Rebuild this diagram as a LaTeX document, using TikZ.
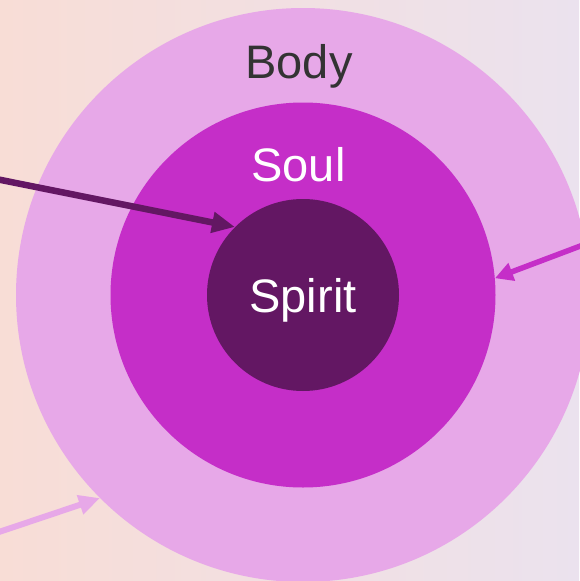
\documentclass[tikz,border=0pt]{standalone}
\usepackage{fontspec}
\setmainfont{Liberation Sans}
\usetikzlibrary{arrows.meta}
\definecolor{Peach}{HTML}{F8DDD6}
\definecolor{Haze}{HTML}{F4EAEF}
\definecolor{Lilac}{HTML}{EBE2EE}
\definecolor{Orchid}{HTML}{E7A8E8}
\definecolor{Magenta}{HTML}{C52EC8}
\definecolor{Plum}{HTML}{631763}
\definecolor{Ink}{HTML}{333333}

\begin{document}
\begin{tikzpicture}[x=1pt,y=-1pt,font=\fontsize{47}{56}\selectfont,
    ring/.style={circle,inner sep=0pt,draw=none},
    lbl/.style={anchor=base,inner sep=0pt}]
        \useasboundingbox (0,0) rectangle (579,581);
        \shade[left color=Peach,middle color=Haze,right color=Lilac] (0,0) rectangle (579,581);
        % the three rings
        \node[ring,fill=Orchid,minimum size=574pt] (body) at (303,295) {};
        \node[ring,fill=Magenta,minimum size=385pt] (soul) at (303,295) {};
        \node[ring,fill=Plum,minimum size=192pt] (spirit) at (303,295) {};
        \node[lbl,text=Ink] (bodytxt) at (299,78.5) {Body};
        \node[lbl,text=white] (soultxt) at (298.5,181.5) {Soul};
        \node[lbl,text=white] (spirittxt) at (303,312) {Spirit};
        % pointers from outside
        \coordinate (tailA) at (-4,179);
        \coordinate (tailB) at (583,245);
        \coordinate (tailC) at (-4,533);
        \draw[line width=6.5pt,Plum,-{Triangle[length=23pt,width=20pt]}] (tailA)--(spirit.135);
        \draw[line width=5.5pt,Magenta,-{Triangle[length=18pt,width=18pt]}] (tailB)--(soul.5);
        \draw[line width=6pt,Orchid,-{Triangle[length=21pt,width=19pt]}] (tailC)--(body.225);
      \end{tikzpicture}
\end{document}
